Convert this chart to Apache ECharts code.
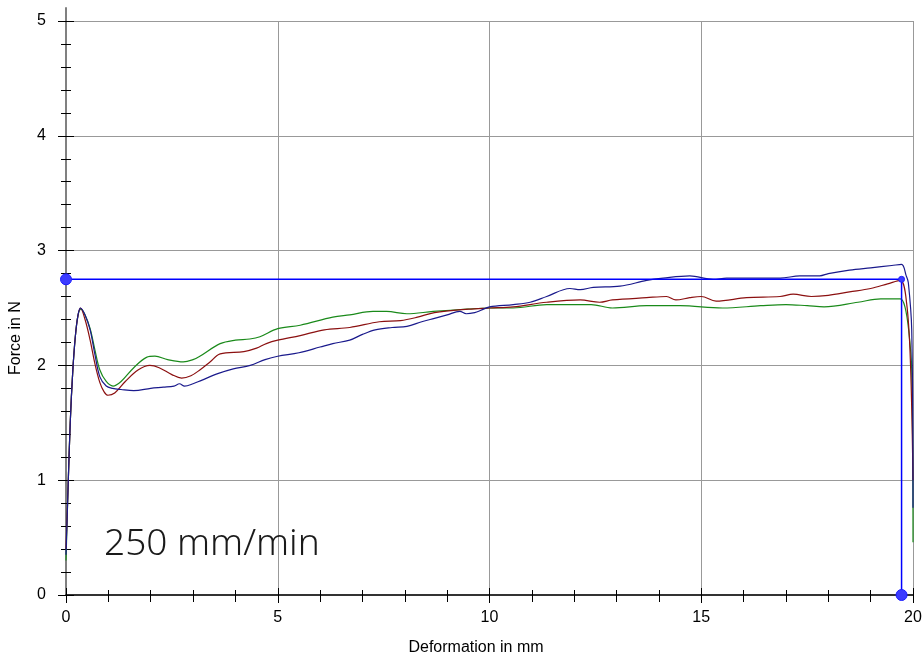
<!DOCTYPE html>
<html>
<head>
<meta charset="utf-8">
<script src="https://cdn.jsdelivr.net/npm/echarts@6/dist/echarts.min.js"></script>
<style>
    html, body { margin: 0; padding: 0; background: #fff; }
    #chart { width: 923px; height: 659px; }
</style>
</head>
<body>
<div id="chart"></div>
<script>

// curves: [deformation mm, force N]
var navyCurve = [
    [0,0.35],[0.05,0.95],[0.1,1.5],[0.16,1.95],[0.22,2.25],[0.28,2.43],[0.34,2.5],
    [0.45,2.44],[0.57,2.31],[0.68,2.1],[0.8,1.9],[0.95,1.82],[1.1,1.8],[1.3,1.79],
    [1.6,1.78],[2.0,1.8],[2.3,1.81],[2.55,1.82],[2.68,1.84],[2.8,1.82],[3.0,1.84],
    [3.2,1.87],[3.6,1.93],[3.95,1.97],[4.35,2.0],[4.7,2.05],[5.0,2.08],[5.5,2.11],
    [6.0,2.16],[6.3,2.19],[6.7,2.22],[7.0,2.27],[7.3,2.31],[7.7,2.33],[8.05,2.34],
    [8.4,2.38],[8.7,2.41],[9.0,2.44],[9.3,2.47],[9.45,2.45],[9.65,2.46],[9.8,2.48],
    [10,2.51],[10.56,2.53],[10.96,2.55],[11.35,2.6],[11.9,2.67],[12.14,2.66],[12.45,2.68],
    [13.08,2.69],[13.71,2.74],[14.1,2.76],[14.73,2.78],[15.28,2.75],[15.6,2.76],[16.07,2.76],
    [16.86,2.76],[17.33,2.78],[17.8,2.78],[18.0,2.8],[18.5,2.83],[19.0,2.85],[19.5,2.87],
    [19.73,2.88],[19.84,2.78],[19.89,2.72],[19.97,2.31],[20,0.76]
];
var redCurve = [
    [0,0.4],[0.05,0.95],[0.1,1.5],[0.16,1.95],[0.22,2.25],[0.28,2.43],[0.34,2.5],
    [0.45,2.4],[0.57,2.22],[0.68,2.02],[0.8,1.85],[0.9,1.77],[0.99,1.74],[1.15,1.76],
    [1.4,1.86],[1.7,1.96],[1.98,2.0],[2.2,1.98],[2.5,1.92],[2.73,1.89],[2.95,1.91],
    [3.16,1.96],[3.4,2.03],[3.64,2.1],[4.2,2.12],[4.5,2.15],[4.73,2.19],[5.0,2.22],
    [5.53,2.26],[6.1,2.31],[6.7,2.33],[7.4,2.38],[7.9,2.39],[8.3,2.42],[8.7,2.46],
    [9.5,2.49],[10,2.5],[10.56,2.51],[11.35,2.55],[12.14,2.57],[12.6,2.55],[12.9,2.57],
    [13.71,2.59],[14.18,2.6],[14.4,2.57],[14.73,2.59],[15.0,2.6],[15.35,2.56],[16.07,2.59],
    [16.86,2.6],[17.17,2.62],[17.6,2.6],[18.0,2.61],[18.5,2.64],[19.0,2.67],[19.4,2.71],
    [19.7,2.74],[19.85,2.54],[19.94,2.02],[20,1.0]
];
var greenCurve = [
    [0,0.3],[0.05,0.95],[0.1,1.5],[0.16,1.95],[0.22,2.25],[0.28,2.43],[0.35,2.49],
    [0.45,2.44],[0.57,2.32],[0.68,2.14],[0.8,1.96],[0.95,1.86],[1.11,1.82],[1.3,1.86],
    [1.6,1.98],[1.9,2.07],[2.1,2.08],[2.4,2.05],[2.77,2.03],[3.0,2.05],[3.16,2.08],
    [3.64,2.19],[4.0,2.22],[4.34,2.23],[4.58,2.25],[5.0,2.32],[5.53,2.35],[6.3,2.42],
    [6.7,2.44],[7.25,2.47],[7.57,2.47],[8.05,2.45],[8.67,2.47],[9.47,2.49],[10,2.5],
    [10.56,2.5],[11.35,2.53],[12.4,2.53],[12.9,2.5],[13.71,2.52],[14.5,2.52],[15.5,2.5],
    [16.4,2.52],[17.0,2.53],[17.5,2.52],[17.9,2.51],[18.7,2.55],[19.24,2.58],[19.7,2.58],
    [19.81,2.51],[19.9,2.3],[19.97,1.96],[20,0.46]
];
// blue cursor lines and their handles
var cursorLine = [[0,2.75],[19.73,2.75],[19.73,0]];
var cursorSizes = [11, 6, 11];

var xTicks = { min: 0, max: 20, interval: 5 };
var yTicks = { min: 0, max: 5, interval: 1, top: 5.12 };

var labelFont = "Liberation Sans";

var chart = echarts.init(document.getElementById("chart"));

function curve(name, data, color) {
    return {
        name : name,
        type : "line",
        data : data,
        showSymbol : false,
        smooth : 0.35,
        lineStyle : { color : color, width : 1.2 },
        itemStyle : { color : color },
        z : 3
    };
}

var option = {
    animation : false,
    grid : { left : 66, right : 10, top : 21, bottom : 64, outerBoundsMode : "none", containLabel : false },
    xAxis : [
        {
            type : "value",
            min : xTicks.min, max : xTicks.max, interval : xTicks.interval,
            name : "Deformation in mm",
            nameLocation : "middle",
            nameGap : 45,
            nameTextStyle : { fontFamily : labelFont, fontSize : 16, color : "#000", padding : [0, 27, 0, 0] },
            axisLine : { lineStyle : { color : "#333", width : 2 } },
            axisTick : { inside : false, length : 8, lineStyle : { color : "#000" } },
            minorTick : { show : true, splitNumber : 5, length : 7, lineStyle : { color : "#000" } },
            splitLine : { show : true, lineStyle : { color : "#999", width : 1 } },
            axisLabel : { fontFamily : labelFont, fontSize : 16, color : "#000", margin : 15 }
        },
        {
            type : "value", position : "bottom",
            min : xTicks.min, max : xTicks.max, interval : xTicks.interval,
            axisLine : { show : false },
            axisTick : { inside : true, length : 7, lineStyle : { color : "#000" } },
            minorTick : { show : true, splitNumber : 5, length : 5, lineStyle : { color : "#000" } },
            splitLine : { show : false },
            axisLabel : { show : false }
        }
    ],
    yAxis : [
        {
            type : "value",
            min : yTicks.min, max : yTicks.max, interval : yTicks.interval,
            name : "Force in N",
            nameLocation : "middle",
            nameRotate : 90,
            nameGap : 42,
            nameTextStyle : { fontFamily : labelFont, fontSize : 16, color : "#000", padding : [0, 60, 0, 0] },
            axisLine : { lineStyle : { color : "#808080", width : 2 } },
            axisTick : { inside : false, length : 8, lineStyle : { color : "#000" } },
            minorTick : { show : true, splitNumber : 5, length : 5, lineStyle : { color : "#000" } },
            splitLine : { show : true, lineStyle : { color : "#999", width : 1 } },
            axisLabel : { fontFamily : labelFont, fontSize : 16, color : "#000", margin : 20 }
        },
        {
            type : "value", position : "left",
            min : yTicks.min, max : yTicks.max, interval : yTicks.interval,
            axisLine : { show : false },
            axisTick : { inside : true, length : 8, lineStyle : { color : "#000" } },
            minorTick : { show : true, splitNumber : 5, length : 5, lineStyle : { color : "#000" } },
            splitLine : { show : false },
            axisLabel : { show : false }
        }
    ],
    series : [
        curve("green", greenCurve, "#1a8a1a"),
        curve("red", redCurve, "#8b1010"),
        curve("navy", navyCurve, "#1a1a8c"),
        {
            name : "cursor",
            type : "line",
            data : cursorLine,
            clip : false,
            symbol : "circle",
            symbolSize : function (val, params) {
                return cursorSizes[params.dataIndex];
            },
            lineStyle : { color : "#0000ff", width : 1.5 },
            itemStyle : { color : "#3c3cff", borderColor : "#1f1fff", borderWidth : 1 },
            z : 4
        }
    ]
};

chart.setOption(option);

// axis line runs a little past the top grid line
var pTop = chart.convertToPixel({ gridIndex : 0 }, [0, yTicks.top]);
var pMax = chart.convertToPixel({ gridIndex : 0 }, [0, yTicks.max]);

chart.setOption({
    graphic : [
        {
            type : "line",
            shape : { x1 : pTop[0], y1 : pTop[1], x2 : pMax[0], y2 : pMax[1] },
            style : { stroke : "#808080", lineWidth : 2 },
            z : 2
        },
        {
            type : "text",
            left : 104,
            top : 526,
            style : {
                text : "250 mm/min",
                font : "300 37px 'Noto Sans'",
                fill : "#1a1a1a"
            },
            z : 5
        }
    ]
});

window.addEventListener("resize", function () {
    chart.resize();
});

</script>
</body>
</html>
